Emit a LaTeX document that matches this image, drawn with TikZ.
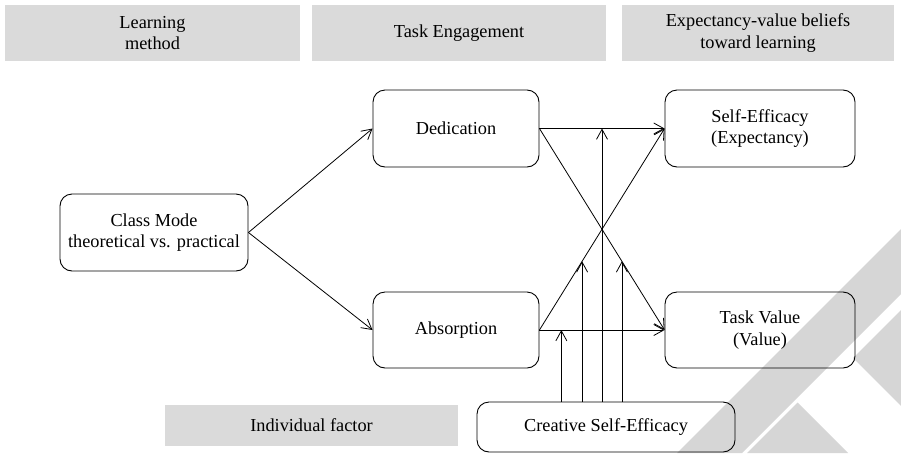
\documentclass[tikz,border=0pt]{standalone}
\usepackage{fontspec}
\setmainfont{Liberation Serif}
\usetikzlibrary{arrows.meta,calc}
\definecolor{hdr}{RGB}{218,218,218}
\definecolor{wm}{RGB}{214,214,214}
\begin{document}
\begin{tikzpicture}[x=1pt,y=-1pt,
  every node/.style={font=\fontsize{18.3}{21.6}\selectfont},
  hdrbox/.style={fill=hdr, draw=none, align=center, inner sep=0pt},
  rbox/.style={draw, rounded corners=12pt, line width=0.9pt, align=center, inner sep=0pt},
  arr/.style={-{Straight Barb[length=10pt,width=11pt,line width=0.8pt]}, line width=0.8pt}]
\useasboundingbox (0,0) rectangle (901,453);
% watermark
\fill[wm] (677,453) -- (901,229) -- (901,294) -- (742,453) -- cycle;
\fill[wm] (797.5,402.5) -- (848,453) -- (747,453) -- cycle;
\fill[wm] (901,310) -- (853,358) -- (901,406) -- cycle;
% headers
\node[hdrbox, minimum width=295pt, minimum height=56pt] (h1) at (152.5,33) {Learning\\method};
\node[hdrbox, minimum width=294pt, minimum height=56pt] (h2) at (459,33) {Task Engagement};
\node[hdrbox, minimum width=272pt, minimum height=56pt] (h3) at (758,33) {Expectancy-value beliefs\\toward learning};
\node[hdrbox, minimum width=293pt, minimum height=41pt] (h4) at (311.5,425.5) {Individual factor};
% boxes
\node[rbox, minimum width=188pt, minimum height=77pt] (cm) at (154,232.5) {Class Mode\\theoretical vs. practical};
\node[rbox, minimum width=166pt, minimum height=77pt] (ded) at (456,128.5) {Dedication};
\node[rbox, minimum width=166pt, minimum height=76pt] (abs) at (456,330) {Absorption};
\node[rbox, minimum width=190pt, minimum height=77pt] (se) at (760,128.5) {Self-Efficacy\\(Expectancy)};
\node[rbox, minimum width=190pt, minimum height=76pt] (tv) at (760,330) {Task Value\\(Value)};
\node[rbox, minimum width=258pt, minimum height=50pt] (cse) at (606,427) {Creative Self-Efficacy};
% arrows
\draw[arr] (cm.east) -- (ded.west);
\draw[arr] (cm.east) -- (abs.west);
\draw[arr] (ded.east) -- (se.west);
\draw[arr] (ded.east) -- (tv.west);
\draw[arr] (abs.east) -- (se.west);
\draw[arr] (abs.east) -- (tv.west);
% moderation
\coordinate (m1) at ($(abs.east)!0.175!(tv.west)$);
\coordinate (m2) at ($(abs.east)!0.341!(se.west)$);
\coordinate (m3) at ($(ded.east)!0.5!(se.west)$);
\coordinate (m4) at ($(ded.east)!0.659!(tv.west)$);
\draw[arr] (m1 |- cse.north) -- (m1);
\draw[arr] (m2 |- cse.north) -- (m2);
\draw[arr] (m3 |- cse.north) -- (m3);
\draw[arr] (m4 |- cse.north) -- (m4);
\end{tikzpicture}
\end{document}
